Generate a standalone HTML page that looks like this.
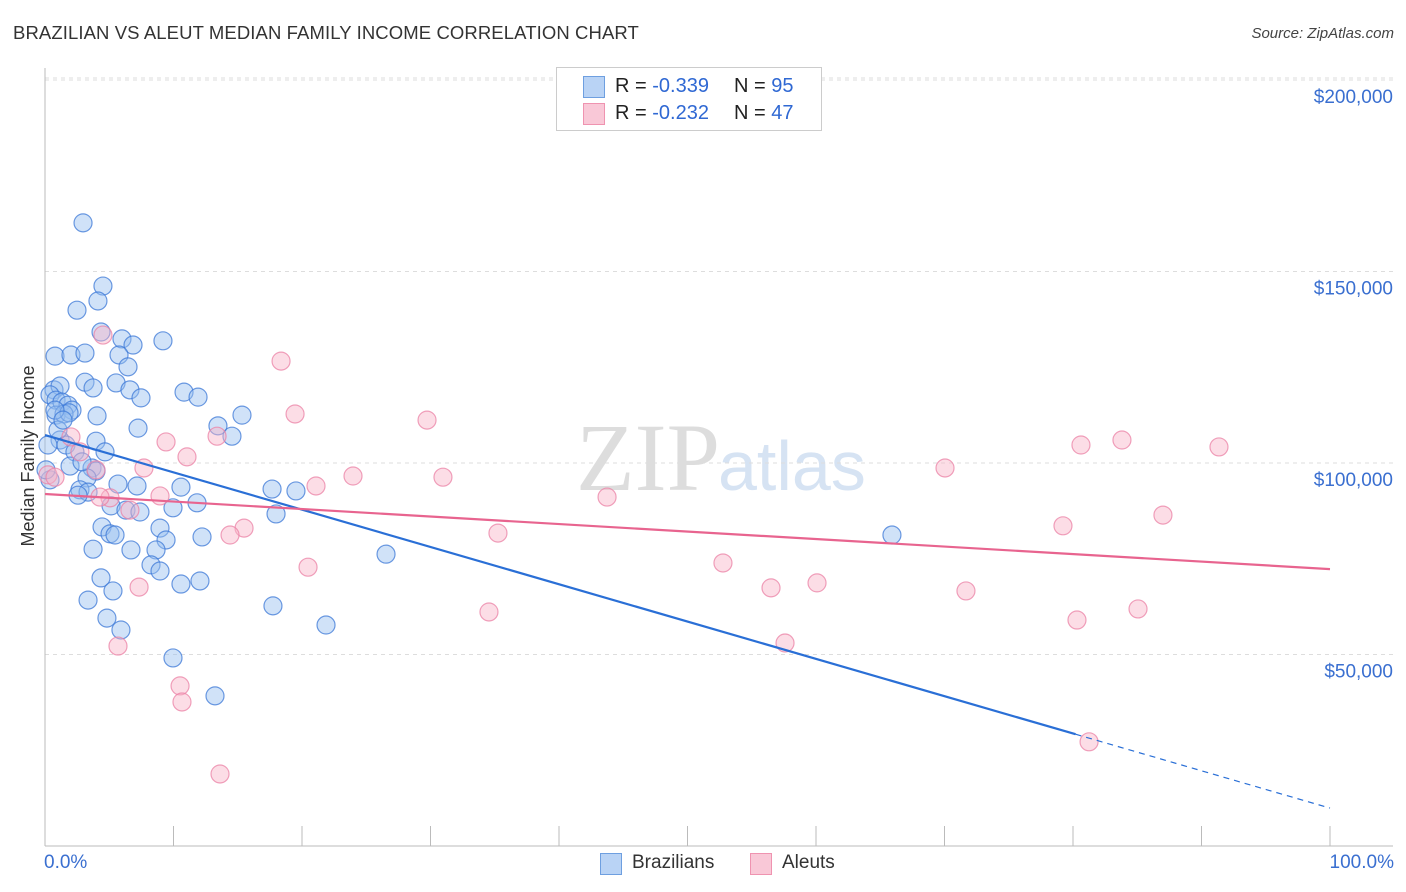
<!DOCTYPE html>
<html><head><meta charset="utf-8"><style>
body{margin:0;background:#fff;font-family:"Liberation Sans",sans-serif;}
#wrap{position:relative;width:1406px;height:892px;overflow:hidden;}
</style></head><body>
<div id="wrap">
<div style="position:absolute;left:13px;top:22px;font-size:18.5px;color:#333;letter-spacing:0.1px">BRAZILIAN VS ALEUT MEDIAN FAMILY INCOME CORRELATION CHART</div>
<div style="position:absolute;right:12px;top:25px;font-size:15px;color:#444;font-style:italic">Source: ZipAtlas.com</div>
<svg id="svg" width="1406" height="892" style="position:absolute;left:0;top:0">
<text x="720" y="490" text-anchor="end" font-family="Liberation Serif" font-size="96" fill="#ddd">ZIP</text>
<text x="718" y="490" font-family="Liberation Sans" font-size="70" fill="#d6e3f3">atlas</text>
<text transform="translate(34,456) rotate(-90)" text-anchor="middle" font-size="18" fill="#333">Median Family Income</text>
<g id="grid"></g><g id="pts"></g><g id="lines"></g>
</svg>
<div style="position:absolute;left:556px;top:67px;width:264px;height:62px;border:1px solid #ccc;background:#fff;font-size:20px;color:#222">
 <div style="position:absolute;left:26px;top:8px;width:20px;height:20px;background:#b9d3f5;border:1px solid #6e9fe0"></div>
 <div style="position:absolute;left:58px;top:7px">R = <span style="color:#2f68d3">-0.339</span></div>
 <div style="position:absolute;left:177px;top:7px">N = <span style="color:#2f68d3">95</span></div>
 <div style="position:absolute;left:26px;top:35px;width:20px;height:20px;background:#f9c8d7;border:1px solid #ef93b0"></div>
 <div style="position:absolute;left:58px;top:34px">R = <span style="color:#2f68d3">-0.232</span></div>
 <div style="position:absolute;left:177px;top:34px">N = <span style="color:#2f68d3">47</span></div>
</div>
<div style="position:absolute;left:600px;top:852px;font-size:19px;color:#333">
 <div style="position:absolute;left:0;top:1px;width:20px;height:20px;background:#b9d3f5;border:1px solid #6e9fe0"></div>
 <div style="position:absolute;left:32px;top:0;white-space:nowrap">Brazilians</div>
 <div style="position:absolute;left:150px;top:1px;width:20px;height:20px;background:#f9c8d7;border:1px solid #ef93b0"></div>
 <div style="position:absolute;left:182px;top:0">Aleuts</div>
</div>
<div style="position:absolute;left:44px;top:852px;font-size:19px;color:#3a6fd0">0.0%</div>
<div style="position:absolute;right:12px;top:852px;font-size:19px;color:#3a6fd0">100.0%</div>
</div>
<script>
const yTicks=[50,100,150,200];
const yTickLabels=["$50,000","$100,000","$150,000","$200,000"];
const xTicks=[0,10,20,30,40,50,60,70,80,90,100];
const bluX=[2.96,4.51,4.12,2.49,4.36,5.99,6.85,9.18,0.78,2.02,3.11,5.76,6.46,3.11,3.74,5.53,6.61,7.47,10.82,11.91,0.70,1.17,0.39,0.86,1.32,1.79,2.10,0.86,1.48,1.87,4.05,15.33,13.46,14.55,7.24,1.17,1.63,3.97,4.67,2.33,1.95,3.66,3.97,3.27,0.23,0.39,2.72,3.35,5.68,7.16,10.58,17.67,19.53,5.14,6.30,7.39,9.96,11.83,17.98,4.44,8.95,5.06,5.45,9.42,12.22,3.74,6.69,8.64,8.25,8.95,4.36,10.58,12.06,5.29,3.35,4.82,5.91,17.74,21.87,9.96,13.23,26.54,65.91,0.08,1.01,2.57,0.78,1.40,2.88];
const bluY=[162.7,146.2,142.3,139.9,134.2,132.4,130.8,131.9,127.9,128.2,128.7,128.2,125.1,121.1,119.6,120.9,119.1,117.0,118.5,117.2,119.1,120.1,117.8,116.4,115.9,115.1,113.8,112.5,112.8,113.1,112.3,112.5,109.7,107.0,109.1,106.0,104.7,105.7,102.9,102.9,99.2,98.7,97.9,96.1,104.7,95.6,93.0,92.4,94.5,94.0,93.7,93.2,92.7,88.8,87.7,87.2,88.3,89.6,86.7,83.3,83.0,81.5,81.2,79.9,80.7,77.5,77.3,77.3,73.4,71.8,70.0,68.4,69.2,66.6,64.2,59.5,56.4,62.7,57.7,49.1,39.2,76.2,81.2,98.2,108.6,91.6,113.8,111.2,100.3];
const pinkX=[4.51,18.37,19.46,29.73,13.39,9.42,11.05,2.02,2.72,7.70,3.97,23.97,30.97,21.09,8.95,5.06,6.61,43.74,0.23,0.78,15.49,14.40,35.25,20.47,7.32,34.55,5.68,10.51,10.66,13.62,52.76,56.50,60.08,71.67,57.59,70.04,80.62,83.81,91.36,79.22,87.00,85.06,80.31,81.25,4.28];
const pinkY=[133.4,126.6,112.8,111.2,107.0,105.5,101.6,106.8,102.9,98.7,98.2,96.6,96.3,94.0,91.4,90.9,87.7,91.1,96.9,96.3,83.0,81.2,81.7,72.8,67.6,61.1,52.2,41.8,37.6,18.8,73.9,67.4,68.7,66.6,53.0,98.7,104.7,106.0,104.2,83.6,86.4,61.9,59.0,27.2,91.1];
const blueTrend=[107.3,9.9];
const pinkTrend=[91.9,72.3];
const blueSolidEnd=80.2;
const NS='http://www.w3.org/2000/svg';
const sx=v=>45+v*12.85;
const sy=v=>846-v*3.83;
function mk(t,a,p){const e=document.createElementNS(NS,t);for(const k in a)e.setAttribute(k,a[k]);p.appendChild(e);return e;}
const grid=document.getElementById('grid');
yTicks.forEach((t,i)=>{
 const l=mk('line',{x1:45,x2:1393,y1:sy(t),y2:sy(t),stroke:'#ddd','stroke-dasharray':'4,4'},grid);
 
 
 const tx=mk('text',{x:1393,y:sy(t)+23,'text-anchor':'end','font-size':19,fill:'#3a6fd0'},grid);
 tx.textContent=yTickLabels[i];
 
 
});
const topGrid=mk('line',{x1:45,x2:1393,y1:78,y2:78,stroke:'#ddd','stroke-dasharray':'4,4'},grid);


const ya=mk('line',{x1:45,x2:45,y1:68,y2:846,stroke:'#bbb'},grid);


const xa=mk('line',{x1:45,x2:1393,y1:846,y2:846,stroke:'#bbb'},grid);


xTicks.forEach(t=>{
 const k=mk('line',{x1:sx(t),x2:sx(t),y1:826,y2:846,stroke:'#bbb'},grid);
 
 
});
const pts=document.getElementById('pts');
bluX.forEach((x,i)=>{
 const c=mk('circle',{cx:sx(x),cy:sy(bluY[i]),r:9,fill:'rgba(150,190,240,0.45)',stroke:'rgba(60,120,215,0.75)','stroke-width':1.2},pts);
 
 
});
pinkX.forEach((x,i)=>{
 const c=mk('circle',{cx:sx(x),cy:sy(pinkY[i]),r:9,fill:'rgba(248,180,200,0.45)',stroke:'rgba(235,130,165,0.75)','stroke-width':1.2},pts);
 
 
});
const lines=document.getElementById('lines');
const bAt=v=>blueTrend[0]+(blueTrend[1]-blueTrend[0])*v/100;
const bl=mk('line',{x1:sx(0),y1:sy(bAt(0)),x2:sx(blueSolidEnd),y2:sy(bAt(blueSolidEnd)),stroke:'#2a6fd6','stroke-width':2.2},lines);


const bd=mk('line',{x1:sx(blueSolidEnd),y1:sy(bAt(blueSolidEnd)),x2:sx(100),y2:sy(bAt(100)),stroke:'#2a6fd6','stroke-width':1.2,'stroke-dasharray':'6,5'},lines);


const pl=mk('line',{x1:sx(0),y1:sy(pinkTrend[0]),x2:sx(100),y2:sy(pinkTrend[1]),stroke:'#e8648f','stroke-width':2.2},lines);


</script>
</body></html>
